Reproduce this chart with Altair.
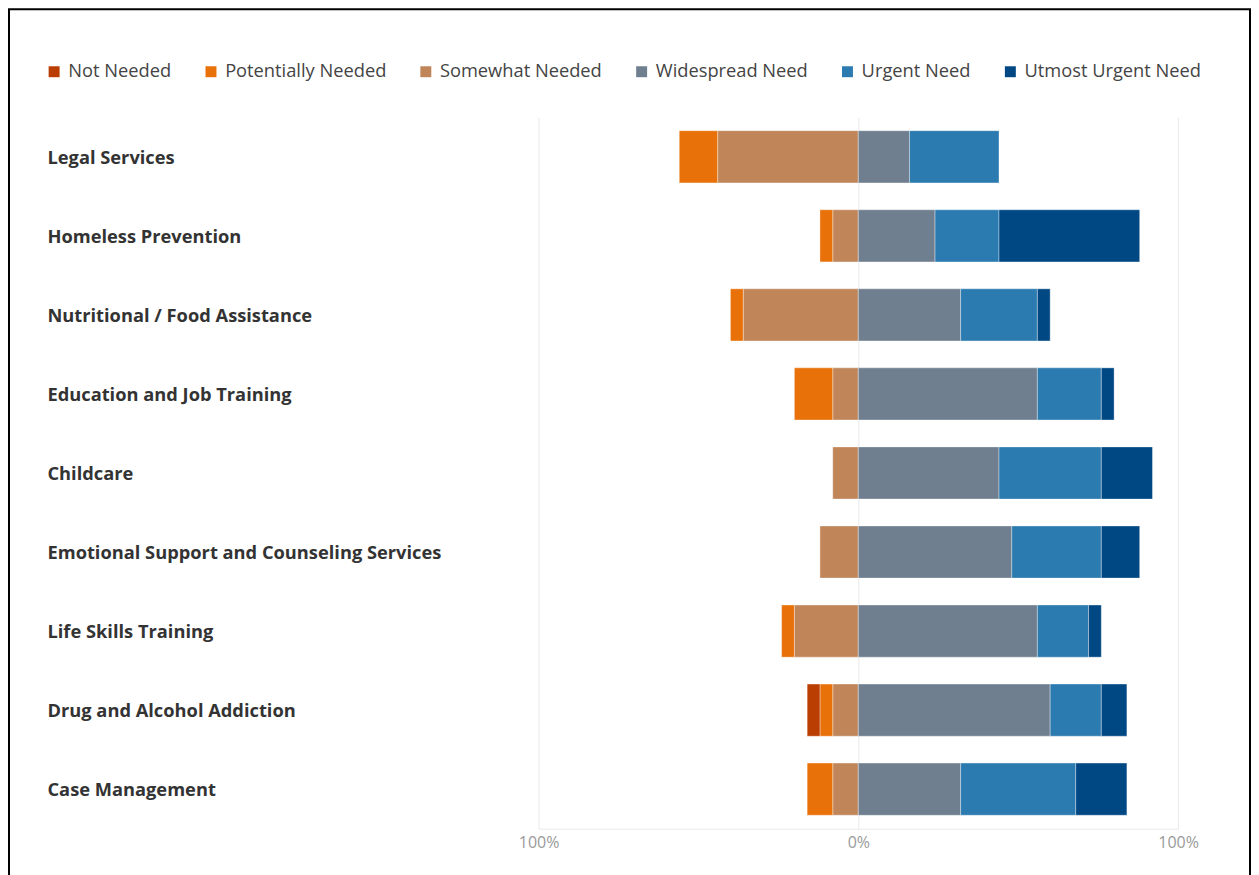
import altair as alt
import pandas as pd

categories = [
    "Legal Services",
    "Homeless Prevention",
    "Nutritional / Food  Assistance",
    "Education and Job Training",
    "Childcare",
    "Emotional Support and Counseling Services",
    "Life Skills Training",
    "Drug and Alcohol Addiction",
    "Case Management",
]
levels = ["Not Needed", "Potentially Needed", "Somewhat Needed",
          "Widespread Need", "Urgent Need", "Utmost Urgent Need"]
colors = ["#BA3D02", "#E8710A", "#C0865A", "#6F7F8F", "#2B7AB0", "#004884"]

# percentages of respondents
not_needed = [0, 0, 0, 0, 0, 0, 0, 4, 0]
potentially = [12, 4, 4, 12, 0, 0, 4, 4, 8]
somewhat = [44, 8, 36, 8, 8, 12, 20, 8, 8]
widespread = [16, 24, 32, 56, 44, 48, 56, 60, 32]
urgent = [28, 20, 24, 20, 32, 28, 16, 16, 36]
utmost = [0, 44, 4, 4, 16, 12, 4, 8, 16]

rows = []
for i, c in enumerate(categories):
    # negative side: Somewhat nearest center, then Potentially, then Not Needed
    pos = 0
    for lvl, vals in [("Somewhat Needed", somewhat), ("Potentially Needed", potentially), ("Not Needed", not_needed)]:
        v = vals[i]
        if v > 0:
            rows.append({"cat": c, "level": lvl, "start": -pos, "end": -(pos + v)})
        pos += v
    pos = 0
    for lvl, vals in [("Widespread Need", widespread), ("Urgent Need", urgent), ("Utmost Urgent Need", utmost)]:
        v = vals[i]
        if v > 0:
            rows.append({"cat": c, "level": lvl, "start": pos, "end": pos + v})
        pos += v
df = pd.DataFrame(rows)

W, H = 640, 712
FONT = "Open Sans"

bars = alt.Chart(df).mark_bar(stroke="white", strokeWidth=0.6, strokeOpacity=0.6).encode(
    x=alt.X("start:Q",
            scale=alt.Scale(domain=[-100, 100], nice=False),
            axis=alt.Axis(values=[-100, 0, 100], labelExpr="abs(datum.value) + '%'",
                          title=None, grid=True, gridColor="#e9e9e9", domain=True,
                          domainColor="#e9e9e9", ticks=False, labelColor="#9a9a9a",
                          labelFontSize=16, labelFont=FONT, labelPadding=6,
                          labelFlush=False)),
    x2="end:Q",
    y=alt.Y("cat:N", sort=categories,
            scale=alt.Scale(paddingInner=0.34, paddingOuter=0.17),
            axis=alt.Axis(title=None, domain=False, ticks=False, tickSize=0, grid=False,
                          labelAlign="left", labelPadding=492, labelFontSize=18.3,
                          labelFont=FONT, labelFontWeight="bold", labelColor="#333333",
                          labelLimit=480, labelOffset=2)),
    color=alt.Color("level:N", sort=levels,
                    scale=alt.Scale(domain=levels, range=colors),
                    legend=alt.Legend(title=None, orient="none", direction="horizontal",
                                      legendX=-494, legendY=-55, symbolType="square",
                                      symbolSize=120, symbolStrokeWidth=0,
                                      labelFontSize=18.3, labelFont=FONT,
                                      labelColor="#444444", columnPadding=30,
                                      labelOffset=5, labelLimit=300, padding=0)),
)

border = alt.Chart(pd.DataFrame({"a": [0]})).mark_rect(
    fill=None, stroke="black", strokeWidth=2
).encode(
    x=alt.value(-530), x2=alt.value(712),
    y=alt.value(-108), y2=alt.value(H + 70),
)

chart = alt.layer(border, bars).properties(
    width=W, height=H, padding=0, background="white"
).configure_view(strokeWidth=0)

chart.save("out.html", embed_options={"renderer": "svg", "actions": False})
